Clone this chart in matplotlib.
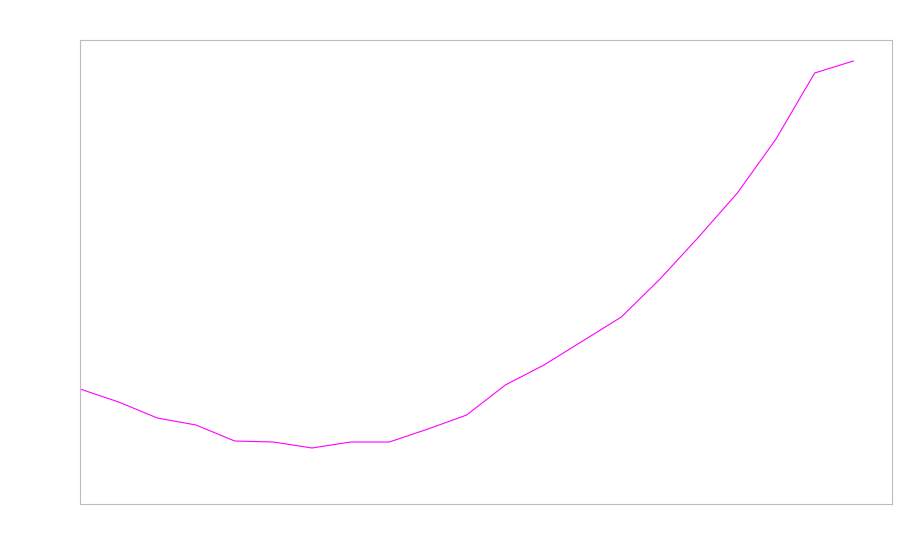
import matplotlib
matplotlib.use("Agg")
import matplotlib.pyplot as plt

# one magenta series, no labels on the chart
steps = list(range(21))
values = [115, 102, 86, 79, 63, 62, 56, 62, 62, 75, 89,
          119, 139, 163, 187, 225, 267, 311, 365, 431, 443]

fig = plt.figure(figsize=(9, 5.6), dpi=100)
ax = fig.add_axes([80 / 900, 56 / 560, 812 / 900, 464 / 560])

ax.plot(steps, values, color="#ff00ff", linewidth=0.8)

ax.set_xlim(0, 21)
ax.set_ylim(0, 464)
ax.set_xticks([])
ax.set_yticks([])
for s in ax.spines.values():
    s.set_color("#bdbdbd")
    s.set_linewidth(0.8)

fig.savefig("out.png", dpi=100)
